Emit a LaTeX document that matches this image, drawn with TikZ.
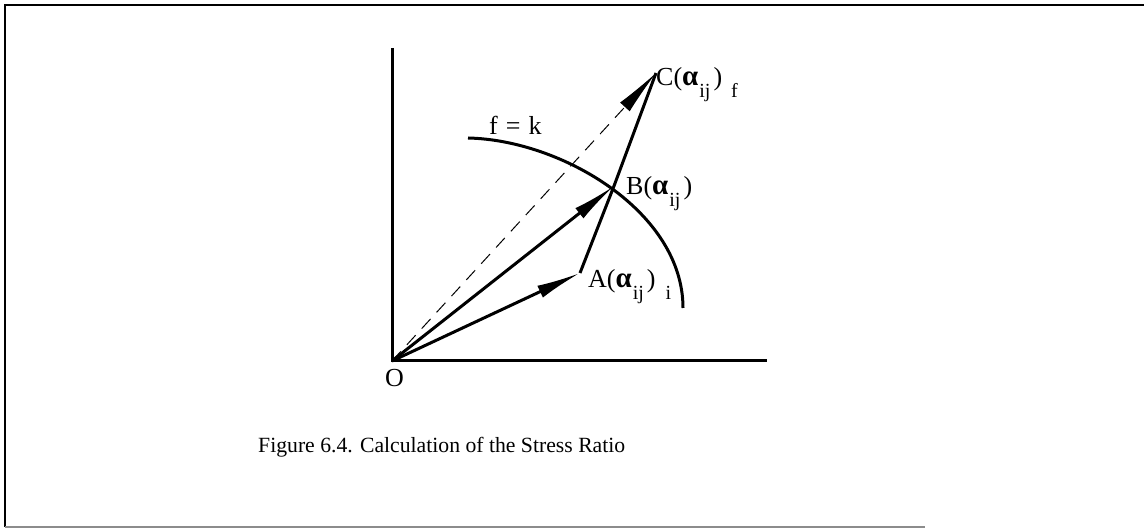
\documentclass[tikz,border=0pt]{standalone}
\usepackage{fontspec}
\setmainfont{Liberation Serif}
\usetikzlibrary{arrows.meta}
\newcommand\lowsub[1]{\raisebox{-0.45em}{\fontsize{20}{22}\selectfont #1}}
\newcommand\stressglyph{{\fontsize{29}{31}\selectfont\bfseries α}}

\begin{document}
\begin{tikzpicture}[x=1pt,y=-1pt,>=Latex]
\tikzset{
  frame/.style={line width=2.5pt},
  axis/.style={line width=3pt},
  vec/.style={line width=3pt,-{Latex[length=44pt,width=13pt]}},
  seg/.style={line width=3pt,line join=round},
  guide/.style={line width=1pt,dash pattern=on 13pt off 9pt,-{Latex[length=46pt,width=13pt]}},
  pointlabel/.style={font=\fontsize{26}{28}\selectfont,anchor=base west,inner sep=0pt},
  caption/.style={font=\fontsize{21.7}{24}\selectfont,anchor=base west,inner sep=0pt}
}
\useasboundingbox (0,0) rectangle (1144,529);
\draw[frame] (1144,5) -- (5,5) -- (5,527);
\draw[line width=1.6pt,black!45] (5,527) -- (925,527);

\coordinate (O) at (392,361);
\coordinate (ytop) at (392,48);
\coordinate (xend) at (767,361);
\coordinate (A) at (580,273);
\coordinate (B) at (614,186);
\coordinate (C) at (656,73);

\draw[axis] (ytop) -- (O) -- (xend);
\draw[axis] (468,138) .. controls (562,140) and (683,212) .. (683,308);
\draw[guide] (O) -- (C);
\draw[vec] (O) -- (A);
\draw[vec] (O) -- (B);
\draw[seg] (A) -- (B) -- (C);

\node[pointlabel] (labO) at (385,387) {O};
\node[pointlabel] (labA) at (588,288) {A(\stressglyph\kern1pt\lowsub{ij}\kern3pt)\kern10pt\lowsub{i}};
\node[pointlabel] (labB) at (626,195) {B(\stressglyph\kern1pt\lowsub{ij}\kern3pt)};
\node[pointlabel] (labC) at (656,86) {C(\stressglyph\kern1pt\lowsub{ij}\kern3pt)\kern9pt\lowsub{f}};
\node[pointlabel] (labf) at (489,135) {f\kern8pt=\kern8pt k};

\node[caption] (cap) at (258,452) {Figure 6.4. Calculation of the Stress Ratio};
\end{tikzpicture}
\end{document}
